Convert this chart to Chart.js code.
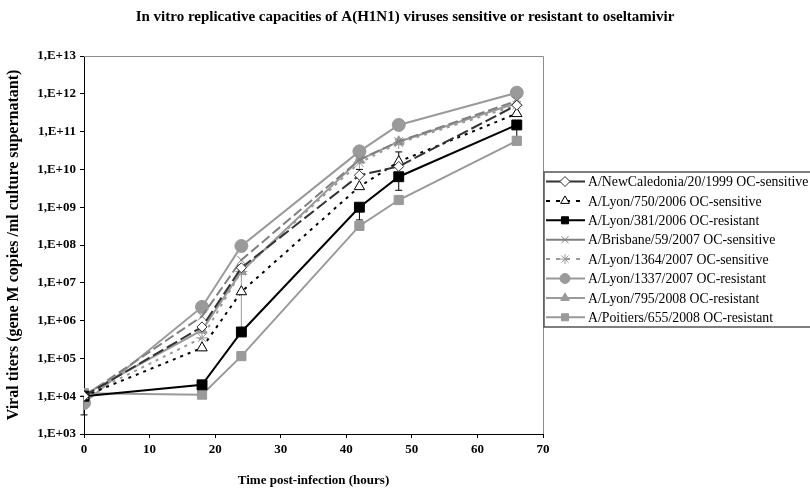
<!DOCTYPE html>
<html lang="en">
<head>
  <meta charset="UTF-8">
  <title>In vitro replicative capacities of A(H1N1)</title>
  <script src="https://cdn.jsdelivr.net/npm/chart.js"></script>
  <style>
    html, body { margin: 0; padding: 0; background: #fff; }
    #wrap { width: 810px; height: 488px; }
  </style>
</head>
<body>
  <div id="wrap"><canvas id="titerChart" width="810" height="488"></canvas></div>

  <script>
    // hours post-infection
    var times = [0, 18, 24, 42, 48, 66];

    var strains = [
      'A/NewCaledonia/20/1999 OC-sensitive',
      'A/Lyon/750/2006 OC-sensitive',
      'A/Lyon/381/2006 OC-resistant',
      'A/Brisbane/59/2007 OC-sensitive',
      'A/Lyon/1364/2007 OC-sensitive',
      'A/Lyon/1337/2007 OC-resistant',
      'A/Lyon/795/2008 OC-resistant',
      'A/Poitiers/655/2008 OC-resistant'
    ];

    // gene M copies / ml
    var newCaledonia = [1.0e4, 6.8e5, 2.5e7, 7.0e9, 1.2e10, 5.0e11];
    var lyon750      = [1.0e4, 1.9e5, 5.8e6, 3.5e9, 1.6e10, 3.0e11];
    var lyon381      = [1.0e4, 2.0e4, 5.0e5, 1.0e9, 6.4e9, 1.5e11];
    var brisbane     = [1.0e4, 1.3e6, 4.0e7, 1.8e10, 5.5e10, 6.5e11];
    var lyon1364     = [1.0e4, 3.5e5, 2.0e7, 1.5e10, 5.0e10, 5.0e11];
    var lyon1337     = [6.6e3, 2.3e6, 9.4e7, 3.0e10, 1.5e11, 1.07e12];
    var lyon795      = [1.1e4, 5.6e5, 2.0e7, 1.8e10, 5.4e10, 5.7e11];
    var poitiers     = [1.2e4, 1.1e4, 1.15e5, 3.2e8, 1.55e9, 5.7e10];

    // error bars: [series index, time, low, high]
    var errorBars = [
      [2, 0, 3.2e3, 1.0e4],
      [6, 24, 4.5e5, 2.2e7],
      [0, 42, 7.0e9, 1.0e10],
      [2, 42, 4.6e8, 1.0e9],
      [1, 48, 1.6e10, 2.9e10],
      [2, 48, 2.8e9, 6.4e9],
      [2, 66, 7.2e10, 1.5e11]
    ];

    var yExponents = [3, 4, 5, 6, 7, 8, 9, 10, 11, 12, 13];

    var serif = "'Liberation Serif', 'DejaVu Serif', serif";
    var grey = '#9a9a9a';

    function pts(values) {
      return times.map(function (t, i) { return { x: t, y: values[i] }; });
    }

    function series(label, values, color, dash, legendDash, style, radius, fill) {
      return {
        label: label,
        data: pts(values),
        borderColor: color,
        borderWidth: 2,
        borderDash: dash,
        legendDash: legendDash,
        pointStyle: style,
        pointRadius: radius,
        pointBackgroundColor: fill,
        pointBorderColor: color,
        pointBorderWidth: 1,
        tension: 0,
        fill: false
      };
    }

    var datasets = [
      series(strains[0], newCaledonia, '#333333', [12, 4], [], 'rectRot', 5, '#ffffff'),
      series(strains[1], lyon750, '#000000', [3, 5], [4, 6], 'triangle', 6, '#ffffff'),
      series(strains[2], lyon381, '#000000', [], [], 'rect', 7, '#000000'),
      series(strains[3], brisbane, '#808080', [10, 4], [], 'crossRot', 6, '#808080'),
      series(strains[4], lyon1364, grey, [3, 5], [4, 6], 'star', 6, grey),
      series(strains[5], lyon1337, grey, [], [], 'circle', 6.5, grey),
      series(strains[6], lyon795, grey, [], [], 'triangle', 6, grey),
      series(strains[7], poitiers, grey, [], [], 'rect', 6.5, grey)
    ];

    // plot frame, error bars, title and legend
    var decor = {
      id: 'decor',
      beforeDatasetsDraw: function (chart) {
        var ctx = chart.ctx;
        var xs = chart.scales.x, ys = chart.scales.y;
        ctx.save();
        errorBars.forEach(function (e) {
          var px = xs.getPixelForValue(e[1]);
          var lo = ys.getPixelForValue(e[2]);
          var hi = ys.getPixelForValue(e[3]);
          ctx.strokeStyle = e[0] === 6 ? grey : '#000';
          ctx.lineWidth = 1;
          ctx.beginPath();
          ctx.moveTo(px, lo); ctx.lineTo(px, hi);
          ctx.moveTo(px - 3.5, lo); ctx.lineTo(px + 3.5, lo);
          ctx.moveTo(px - 3.5, hi); ctx.lineTo(px + 3.5, hi);
          ctx.stroke();
        });
        ctx.restore();
      },
      afterDraw: function (chart) {
        var ctx = chart.ctx;
        var a = chart.chartArea;
        ctx.save();
        // grey frame on top and right of plot area
        ctx.strokeStyle = '#8c8c8c';
        ctx.lineWidth = 1;
        ctx.beginPath();
        ctx.moveTo(a.left, a.top + 0.5);
        ctx.lineTo(a.right + 0.5, a.top + 0.5);
        ctx.lineTo(a.right + 0.5, a.bottom);
        ctx.stroke();

        // title
        ctx.fillStyle = '#000';
        ctx.font = 'bold 15px ' + serif;
        ctx.textAlign = 'center';
        ctx.textBaseline = 'middle';
        ctx.fillText('In vitro replicative capacities of A(H1N1) viruses sensitive or resistant to oseltamivir', 405, 17);

        // legend box
        var lx = 544, ly = 172, rowH = 19.4;
        ctx.strokeStyle = '#555';
        ctx.lineWidth = 1.5;
        ctx.strokeRect(lx, ly, 300, 155);
        ctx.font = '13.8px ' + serif;
        ctx.textAlign = 'left';
        chart.data.datasets.forEach(function (ds, i) {
          var y = ly + 9.5 + i * rowH;
          ctx.strokeStyle = ds.borderColor;
          ctx.lineWidth = 2;
          ctx.setLineDash(ds.legendDash);
          ctx.beginPath();
          ctx.moveTo(lx + 2, y);
          ctx.lineTo(lx + 41, y);
          ctx.stroke();
          ctx.setLineDash([]);
          ctx.fillStyle = ds.pointBackgroundColor;
          ctx.strokeStyle = ds.pointBorderColor;
          ctx.lineWidth = 1;
          Chart.helpers.drawPoint(ctx, {
            pointStyle: ds.pointStyle,
            radius: Math.min(ds.pointRadius, 5),
            rotation: 0,
            borderWidth: 1
          }, lx + 21, y);
          ctx.fillStyle = '#000';
          ctx.fillText(ds.label, lx + 44, y + 1);
        });
        ctx.restore();
      }
    };

    var ctx = document.getElementById('titerChart').getContext('2d');

    new Chart(ctx, {
      type: 'line',
      data: { datasets: datasets },
      options: {
        responsive: false,
        animation: false,
        layout: { padding: { top: 56, right: 267, bottom: 0, left: 0 } },
        plugins: {
          legend: { display: false },
          title: { display: false },
          tooltip: { enabled: false }
        },
        scales: {
          x: {
            type: 'linear',
            min: 0,
            max: 70,
            ticks: {
              stepSize: 10,
              color: '#000',
              font: { family: serif, size: 13, weight: 'bold' },
              padding: 4
            },
            grid: { drawOnChartArea: false, color: '#000', tickLength: 4 },
            border: { color: '#000', width: 1 },
            title: {
              display: true,
              text: 'Time post-infection (hours)',
              color: '#000',
              font: { family: serif, size: 13, weight: 'bold' },
              padding: { top: 5, bottom: 0 }
            },
            afterFit: function (scale) { scale.height = 54; }
          },
          y: {
            type: 'logarithmic',
            min: 1e3,
            max: 1e13,
            afterBuildTicks: function (scale) {
              scale.ticks = yExponents.map(function (e) { return { value: Math.pow(10, e) }; });
            },
            ticks: {
              color: '#000',
              font: { family: serif, size: 13, weight: 'bold' },
              padding: 4,
              callback: function (v) {
                var e = Math.round(Math.log10(v));
                return '1,E+' + (e < 10 ? '0' + e : e);
              }
            },
            grid: { drawOnChartArea: false, color: '#000', tickLength: 4 },
            border: { color: '#000', width: 1 },
            title: {
              display: true,
              text: 'Viral titers (gene M copies /ml culture supernatant)',
              color: '#000',
              font: { family: serif, size: 16, weight: 'bold' },
              padding: { top: 4, bottom: 4 }
            },
            afterFit: function (scale) { scale.width = 84; }
          }
        }
      },
      plugins: [decor]
    });
  </script>
</body>
</html>
